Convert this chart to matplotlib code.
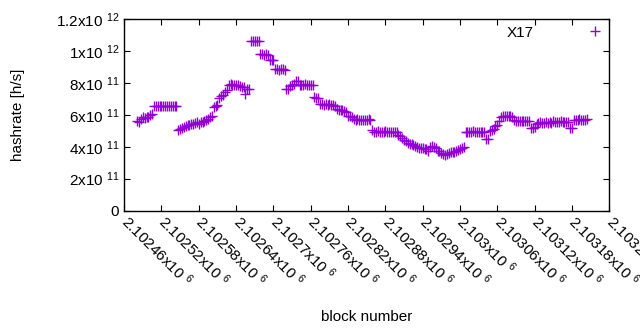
import numpy as np
import matplotlib
matplotlib.use("Agg")
import matplotlib.pyplot as plt
from matplotlib.ticker import FuncFormatter, MultipleLocator

plt.rcParams['font.family'] = ['Liberation Sans', 'DejaVu Sans']
plt.rcParams['mathtext.default'] = 'regular'

# ---------- DATA ----------
base_block = 2102460
block_offset = [
    21, 24, 27, 30, 33, 36, 39, 42, 45, 48, 51, 54, 57, 60, 63, 66, 69, 72, 75, 78,
    81, 84, 87, 90, 93, 96, 99, 102, 105, 108, 111, 114, 117, 120, 123, 126, 129, 132, 135, 138,
    141, 144, 147, 150, 153, 156, 159, 162, 165, 168, 171, 174, 177, 180, 183, 186, 189, 192, 195, 198,
    201, 204, 207, 210, 213, 216, 219, 222, 225, 228, 231, 234, 237, 240, 243, 246, 249, 252, 255, 258,
    261, 264, 267, 270, 273, 276, 279, 282, 285, 288, 291, 294, 297, 300, 303, 306, 309, 312, 315, 318,
    321, 324, 327, 330, 333, 336, 339, 342, 345, 348, 351, 354, 357, 360, 363, 366, 369, 372, 375, 378,
    381, 384, 387, 390, 393, 396, 399, 402, 405, 408, 411, 414, 417, 420, 423, 426, 429, 432, 435, 438,
    441, 444, 447, 450, 453, 456, 459, 462, 465, 468, 471, 474, 477, 480, 483, 486, 489, 492, 495, 498,
    501, 504, 507, 510, 513, 516, 519, 522, 525, 528, 531, 534, 537, 540, 543, 546, 549, 552, 555, 558,
    561, 564, 567, 570, 573, 576, 579, 582, 585, 588, 591, 594, 597, 600, 603, 606, 609, 612, 615, 618,
    621, 624, 627, 630, 633, 636, 639, 642, 645, 648, 651, 654, 657, 660, 663, 666, 669, 672, 675, 678,
    681, 684, 687, 690, 693, 696, 699, 702, 705, 708, 711, 714, 717, 720, 723, 726, 729, 732, 735, 738,
    741, 744,
]

# hashrate in units of 1e11 h/s
hashrate_e11 = [
    5.62, 5.55, 5.72, 5.85, 5.80, 5.88, 5.86, 5.98, 6.05, 6.57, 6.57, 6.58, 6.56, 6.57, 6.57, 6.58, 6.57, 6.56, 6.57, 6.57,
    6.57, 6.57, 5.05, 5.10, 5.18, 5.22, 5.28, 5.38, 5.35, 5.45, 5.42, 5.48, 5.52, 5.45, 5.58, 5.55, 5.62, 5.70, 5.76, 5.88,
    5.90, 6.50, 6.55, 6.60, 7.08, 7.15, 7.22, 7.45, 7.55, 7.90, 7.92, 7.90, 7.88, 7.90, 7.85, 7.80, 7.76, 7.72, 7.30, 7.64,
    7.62, 10.65, 10.66, 10.65, 10.64, 10.65, 9.80, 9.82, 9.78, 9.80, 9.76, 9.45, 9.46, 9.42, 8.85, 8.86, 8.84, 8.85, 8.86, 8.82,
    7.65, 7.60, 7.80, 7.85, 7.92, 8.10, 8.15, 7.90, 7.88, 7.90, 7.92, 7.88, 7.90, 7.90, 7.89, 7.12, 7.08, 7.05, 6.66, 6.65,
    6.64, 6.66, 6.62, 6.65, 6.64, 6.60, 6.55, 6.35, 6.30, 6.31, 6.28, 6.25, 6.20, 5.95, 5.90, 5.85, 5.72, 5.70, 5.71, 5.69,
    5.70, 5.70, 5.68, 5.70, 5.71, 5.70, 5.05, 4.95, 4.94, 4.96, 4.95, 4.93, 4.95, 4.96, 4.94, 4.95, 4.95, 4.93, 4.95, 4.90,
    4.75, 4.70, 4.52, 4.45, 4.38, 4.25, 4.20, 4.15, 4.08, 4.05, 4.00, 3.93, 3.90, 3.95, 3.85, 3.88, 3.72, 3.99, 4.02, 3.98,
    3.95, 3.76, 3.72, 3.60, 3.55, 3.50, 3.55, 3.62, 3.66, 3.65, 3.70, 3.75, 3.80, 3.88, 3.95, 3.97, 4.94, 4.95, 4.93, 4.95,
    4.96, 4.94, 4.95, 4.93, 4.95, 4.94, 4.90, 4.50, 4.48, 5.00, 5.02, 5.10, 5.30, 5.35, 5.60, 5.85, 5.90, 5.92, 5.90, 5.91,
    5.90, 5.88, 5.65, 5.63, 5.64, 5.62, 5.63, 5.64, 5.62, 5.63, 5.60, 5.20, 5.18, 5.25, 5.45, 5.50, 5.52, 5.48, 5.50, 5.55,
    5.50, 5.52, 5.50, 5.60, 5.57, 5.58, 5.55, 5.60, 5.57, 5.56, 5.58, 5.55, 5.20, 5.15, 5.70, 5.68, 5.70, 5.72, 5.68, 5.70,
    5.70, 5.72,
]

series_label = "X17"
x_min, x_max, x_step = 2102460, 2103240, 60
y_min, y_max, y_step = 0, 1.2e12, 2e11

blocks = base_block + np.array(block_offset)
hashrate = np.array(hashrate_e11) * 1e11


def y_fmt(v, pos):
    if abs(v) < 1:
        return "0"
    exp = int(np.floor(np.log10(abs(v)) + 1e-9))
    mant = v / 10 ** exp
    return f"{mant:g}x10 $^{{{exp}}}$"


def x_fmt(v, pos):
    return f"{v / 1e6:.6g}x10 $^{{6}}$"


# ---------- PLOT ----------
fig = plt.figure(figsize=(6.4, 3.3), dpi=100)
ax = fig.add_axes([0.194, 0.362, 0.758, 0.580])

ax.plot(blocks, hashrate, linestyle='none', marker='+', color='#9400d3',
        markersize=7, markeredgewidth=1.0, label=series_label)

ax.set_xlim(x_min, x_max)
ax.set_ylim(y_min, y_max)
ax.xaxis.set_major_locator(MultipleLocator(x_step))
ax.yaxis.set_major_locator(MultipleLocator(y_step))
ax.xaxis.set_major_formatter(FuncFormatter(x_fmt))
ax.yaxis.set_major_formatter(FuncFormatter(y_fmt))

ax.tick_params(direction='in', length=4, width=0.8, top=True, right=True,
               labelsize=11, colors='black')
ax.tick_params(axis='x', pad=6)
for lab in ax.get_xticklabels():
    lab.set_rotation(-45)
    lab.set_ha('left')
    lab.set_va('center')
    lab.set_rotation_mode('anchor')

for s in ax.spines.values():
    s.set_linewidth(1.0)
    s.set_color('black')

ax.set_xlabel("block number", fontsize=11)
ax.set_ylabel("hashrate [h/s]", fontsize=11)
ax.xaxis.set_label_coords(0.5, -0.52)
ax.yaxis.set_label_coords(-0.205, 0.5)

ax.legend(loc='upper right', bbox_to_anchor=(1.0, 0.982), frameon=False,
          markerfirst=False, fontsize=11, handlelength=1.45, handletextpad=3.3,
          borderaxespad=0.0, borderpad=0.2)

plt.savefig("out.png", dpi=100)
